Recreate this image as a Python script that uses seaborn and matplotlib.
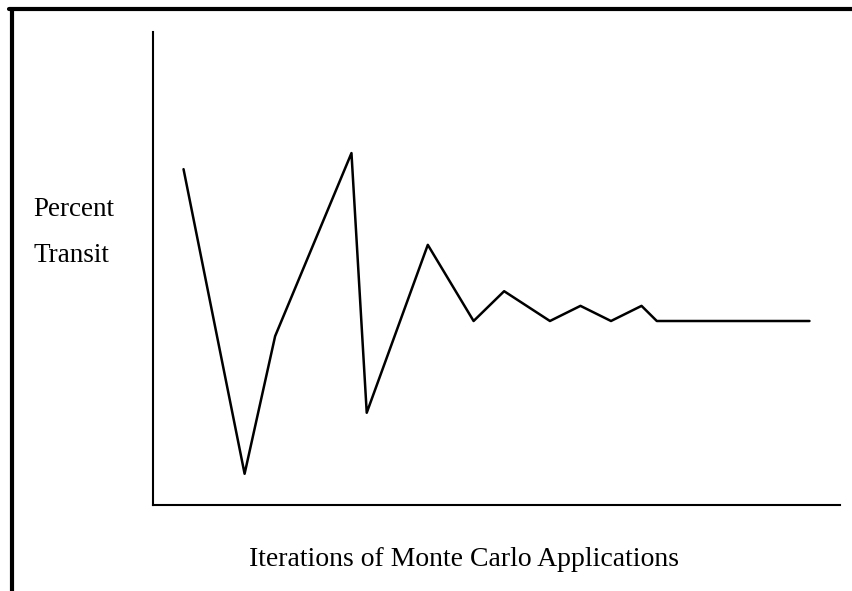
import matplotlib
matplotlib.use("Agg")
import matplotlib.pyplot as plt
from matplotlib.lines import Line2D
import pandas as pd
import seaborn as sns

# iteration number and percent transit
iterations = [1.0, 3.0, 4.0, 6.5, 7.0, 9.0, 10.5, 11.5, 13.0, 14.0, 15.0, 16.0, 16.5, 18.0, 21.5]
percent = [71.0, 6.6, 35.7, 74.4, 19.5, 55.0, 38.9, 45.2, 38.9, 42.1, 38.9, 42.1, 38.9, 38.9, 38.9]

df = pd.DataFrame({"iteration": iterations, "percent": percent})

sns.set_style("white")
plt.rcParams["font.family"] = ["Liberation Serif", "DejaVu Serif"]

fig = plt.figure(figsize=(8.52, 5.91), dpi=100)
ax = fig.add_axes([153 / 852, 1 - 505 / 591, 687 / 852, 473 / 591])

sns.lineplot(data=df, x="iteration", y="percent", color="black", linewidth=1.8, ax=ax)

ax.set_xlim(0, 22.5)
ax.set_ylim(0, 100)
ax.set_xticks([])
ax.set_yticks([])
ax.set_xlabel("")
ax.set_ylabel("")
sns.despine(ax=ax)
for side in ["left", "bottom"]:
    ax.spines[side].set_color("black")
    ax.spines[side].set_linewidth(1.5)

fig.text(33 / 852, 1 - 216 / 591, "Percent", fontsize=19.5, color="black",
         va="baseline", ha="left")
fig.text(33 / 852, 1 - 262 / 591, "Transit", fontsize=19.5, color="black",
         va="baseline", ha="left")
fig.text(464 / 852, 1 - 566 / 591, "Iterations of Monte Carlo Applications",
         fontsize=20, color="black", va="baseline", ha="center")

# outer frame: top and left edges only
fig.add_artist(Line2D([9 / 852, 1], [1 - 8.5 / 591] * 2, color="black", linewidth=3,
                      transform=fig.transFigure))
fig.add_artist(Line2D([11.5 / 852] * 2, [0, 1 - 8.5 / 591], color="black", linewidth=3,
                      transform=fig.transFigure))

fig.savefig("out.png", dpi=100)
